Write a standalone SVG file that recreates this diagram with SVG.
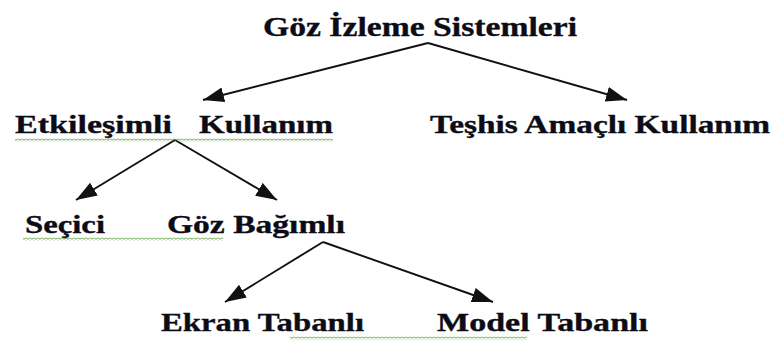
<svg xmlns="http://www.w3.org/2000/svg" width="779" height="341" viewBox="0 0 779 341">
  <style>
    .lbl { font-family: "Liberation Serif", "Times New Roman", serif; font-weight: bold; font-size: 25.5px; fill: #0c0c16; stroke: #0c0c16; stroke-width: 0.35; }
    .title { font-size: 27px; }
    .edge { stroke: #111; stroke-width: 1.9; fill: none; marker-end: url(#arrow); }
    .squig { fill: url(#wave); }
  </style>
  <defs>
    <marker id="arrow" markerUnits="userSpaceOnUse" markerWidth="24" markerHeight="18" refX="21" refY="7.5" orient="auto">
      <path d="M0,0 L21,7.5 L0,15 Z" fill="#111"/>
    </marker>
    <pattern id="wave" patternUnits="userSpaceOnUse" width="4" height="3">
      <path d="M0,2.3 L2,0.7 L4,2.3" stroke="#4f9a2c" stroke-width="0.9" fill="none"/>
    </pattern>
  </defs>

  <g id="connectors">
    <line class="edge" x1="428" y1="43" x2="203" y2="100"/>
    <line class="edge" x1="428" y1="43" x2="627" y2="100"/>
    <line class="edge" x1="175" y1="140" x2="76" y2="200"/>
    <line class="edge" x1="175" y1="140" x2="277" y2="200"/>
    <line class="edge" x1="323" y1="242" x2="225" y2="302"/>
    <line class="edge" x1="323" y1="242" x2="493" y2="302"/>
  </g>

  <g id="root">
    <text class="lbl title" x="263" y="36" textLength="314" lengthAdjust="spacingAndGlyphs">Göz İzleme Sistemleri</text>
  </g>

  <g id="etkilesimli-kullanim">
    <rect class="squig" x="15" y="138.5" width="318" height="3"/>
    <text class="lbl" x="15" y="133" textLength="157" lengthAdjust="spacingAndGlyphs">Etkileşimli</text>
    <text class="lbl" x="199" y="133" textLength="134" lengthAdjust="spacingAndGlyphs">Kullanım</text>
  </g>

  <g id="teshis-amacli-kullanim">
    <text class="lbl" x="430" y="133" textLength="340" lengthAdjust="spacingAndGlyphs">Teşhis Amaçlı Kullanım</text>
  </g>

  <g id="secici">
    <rect class="squig" x="23" y="237.5" width="110" height="3"/>
    <text class="lbl" x="25" y="233" textLength="80" lengthAdjust="spacingAndGlyphs">Seçici</text>
  </g>

  <g id="goz-bagimli">
    <rect class="squig" x="133" y="237.5" width="90" height="3"/>
    <text class="lbl" x="167" y="233" textLength="178" lengthAdjust="spacingAndGlyphs">Göz Bağımlı</text>
  </g>

  <g id="ekran-tabanli">
    <rect class="squig" x="290" y="336.5" width="90" height="3"/>
    <text class="lbl" x="161" y="331" textLength="203" lengthAdjust="spacingAndGlyphs">Ekran Tabanlı</text>
  </g>

  <g id="model-tabanli">
    <rect class="squig" x="380" y="336.5" width="147" height="3"/>
    <text class="lbl" x="437" y="331" textLength="211" lengthAdjust="spacingAndGlyphs">Model Tabanlı</text>
  </g>
</svg>
